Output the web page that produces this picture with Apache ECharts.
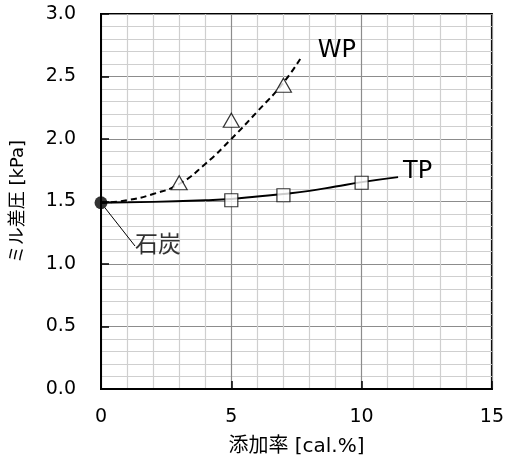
<!DOCTYPE html>
<html>
<head>
<meta charset="utf-8">
<script src="https://cdn.jsdelivr.net/npm/echarts@6/dist/echarts.min.js"></script>
<style>html,body{margin:0;padding:0;background:#fff}#c{width:507px;height:462px}</style>
</head>
<body>
<div id="c"></div>
<script>
// data
const coalPoint = [[0, 1.49]];
const wpMarkers = [[3, 1.65], [5, 2.15], [7, 2.43]];
const tpMarkers = [[5, 1.51], [7, 1.55], [10, 1.65]];
const wpCurve = [[0, 1.49], [1, 1.51], [2, 1.56], [3, 1.64], [4, 1.80], [5, 2.00], [6, 2.22], [7, 2.45], [7.7, 2.66]];
const tpCurve = [[0, 1.49], [2, 1.497], [4, 1.51], [5, 1.52], [6, 1.54], [7, 1.56], [8, 1.585], [9, 1.62], [10, 1.655], [11.4, 1.695]];
const xTitle = '添加率 [cal.%]';
const yTitle = 'ミル差圧 [kPa]';
const coalLabel = '石炭';
const wpLabel = 'WP';
const tpLabel = 'TP';

const FONT = "'DejaVu Sans', 'Noto Sans CJK JP', sans-serif";
const chart = echarts.init(document.getElementById('c'));
chart.setOption({
  animation: false,
  textStyle: { fontFamily: FONT },
  grid: { left: 101, top: 14, right: 14, bottom: 72, show: true, borderColor: '#000', borderWidth: 2, backgroundColor: '#fff' },
  xAxis: {
    type: 'value', min: 0, max: 15, interval: 5,
    name: xTitle, nameLocation: 'middle', nameGap: 48,
    nameTextStyle: { fontSize: 20, color: '#000', fontFamily: FONT },
    axisLine: { show: true, lineStyle: { color: '#000', width: 2 } },
    axisTick: { show: true, inside: true, length: 8, lineStyle: { color: '#000', width: 1.5 } },
    axisLabel: { fontSize: 19, color: '#000', margin: 19, fontFamily: FONT },
    splitLine: { show: true, lineStyle: { color: '#8c8c8c', width: 1.2 } },
    minorTick: { show: false, splitNumber: 5 },
    minorSplitLine: { show: true, lineStyle: { color: '#cfcfcf', width: 1.2 } }
  },
  yAxis: {
    type: 'value', min: 0, max: 3, interval: 0.5,
    name: yTitle, nameLocation: 'middle', nameGap: 74,
    nameTextStyle: { fontSize: 18, color: '#000', fontFamily: FONT },
    axisLine: { show: true, lineStyle: { color: '#000', width: 2 } },
    axisTick: { show: true, inside: true, length: 8, lineStyle: { color: '#000', width: 1.5 } },
    axisLabel: { fontSize: 19, color: '#000', margin: 25, fontFamily: FONT, formatter: v => v.toFixed(1) },
    splitLine: { show: true, lineStyle: { color: '#8c8c8c', width: 1.2 } },
    minorTick: { show: false, splitNumber: 5 },
    minorSplitLine: { show: true, lineStyle: { color: '#cfcfcf', width: 1.2 } }
  },
  series: [
    {
      type: 'line', data: wpCurve, smooth: true, symbol: 'none',
      lineStyle: { color: '#000', width: 2, type: [6, 4] },
      endLabel: { show: true, formatter: wpLabel, fontSize: 24, color: '#000', fontFamily: FONT, offset: [8, -6] },
      z: 3
    },
    {
      type: 'line', data: tpCurve, smooth: true, symbol: 'none',
      lineStyle: { color: '#000', width: 2 },
      endLabel: { show: true, formatter: tpLabel, fontSize: 24, color: '#000', fontFamily: FONT, offset: [-3, -5] },
      z: 3
    },
    {
      type: 'scatter', data: wpMarkers, symbol: 'triangle', symbolSize: [16, 14],
      itemStyle: { color: '#fff', borderColor: '#000', borderWidth: 1.2 }, z: 4
    },
    {
      type: 'scatter', data: tpMarkers, symbol: 'rect', symbolSize: 13,
      itemStyle: { color: '#fff', borderColor: '#000', borderWidth: 1.2 }, z: 4
    },
    {
      type: 'scatter', data: coalPoint, symbol: 'circle', symbolSize: 13,
      itemStyle: { color: '#000' }, z: 5,
      label: { show: true, formatter: coalLabel, fontSize: 23, color: '#000', fontFamily: FONT, position: 'right' },
      labelLayout: { x: 135, y: 246, align: 'left', verticalAlign: 'middle' },
      labelLine: { show: true, lineStyle: { color: '#000', width: 1 } }
    }
  ]
});
</script>
</body>
</html>
